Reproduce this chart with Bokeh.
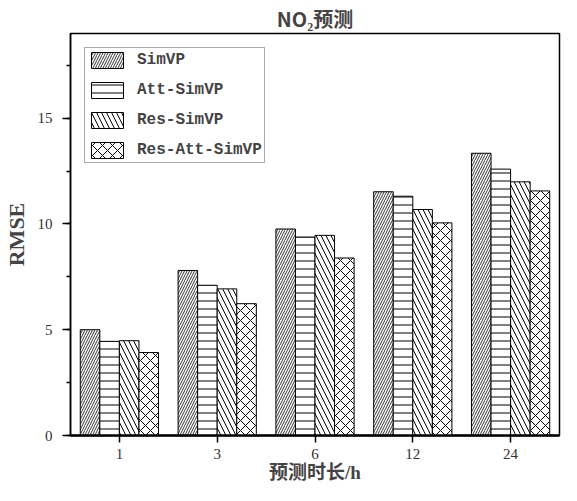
from bokeh.plotting import figure
from bokeh.models import FactorRange, Range1d, SingleIntervalTicker, Legend, LegendItem, ColumnDataSource
from bokeh.transform import dodge
from bokeh.embed import file_html
from bokeh.resources import INLINE

hours = ["1", "3", "6", "12", "24"]
series = ["SimVP", "Att-SimVP", "Res-SimVP", "Res-Att-SimVP"]
simvp = [5.0, 7.8, 9.76, 11.52, 13.34]
att_simvp = [4.45, 7.1, 9.38, 11.31, 12.59]
res_simvp = [4.48, 6.93, 9.46, 10.68, 11.99]
res_att_simvp = [3.92, 6.23, 8.39, 10.05, 11.56]
x_label = "预测时长/h"
y_label = "RMSE"
title = "NO₂预测"

source = ColumnDataSource(dict(hours=hours, s0=simvp, s1=att_simvp, s2=res_simvp, s3=res_att_simvp))

p = figure(x_range=FactorRange(*hours), y_range=Range1d(0, 19),
           width=561, height=485, output_backend="svg", toolbar_location=None,
           min_border_left=64, min_border_right=2, min_border_top=28, min_border_bottom=50)

p.title.text = title
p.title.align = "center"
p.title.text_font = "Noto Sans CJK SC"
p.title.text_font_size = "20px"
p.title.text_font_style = "bold"
p.title.standoff = 2

patterns = ["/", "-", "\\", "x"]
scales = [5, 8, 10, 10]
weights = [0.8, 1, 1, 1]
offsets = [-0.3, -0.1, 0.1, 0.3]
items = []
for i, name in enumerate(series):
    r = p.vbar(x=dodge("hours", offsets[i], range=p.x_range), top="s%d" % i, width=0.2,
               source=source, fill_color="white", line_color="black", line_width=1,
               hatch_pattern=patterns[i], hatch_color="black", hatch_scale=scales[i],
               hatch_weight=weights[i])
    items.append(LegendItem(label=name, renderers=[r]))

legend = Legend(items=items, location="top_left", margin=14, padding=2,
                glyph_width=40, glyph_height=20, spacing=10, label_standoff=10,
                label_height=20, label_text_font="Liberation Mono",
                label_text_font_style="bold", label_text_font_size="16px",
                border_line_color="#555555", border_line_width=1.5,
                background_fill_alpha=1)
p.add_layout(legend)

p.xgrid.visible = False
p.ygrid.visible = False
p.outline_line_color = "black"
p.outline_line_width = 1.5

p.yaxis.ticker = SingleIntervalTicker(interval=5, num_minor_ticks=2)
for ax in (p.xaxis, p.yaxis):
    ax.major_label_text_font = "Liberation Serif"
    ax.major_label_text_font_size = "15px"
    ax.major_label_text_color = "#333333"
    ax.major_label_text_line_height = 1.0
    ax.axis_label_text_line_height = 1.0
    ax.major_tick_in = 0
    ax.minor_tick_in = 0
    ax.axis_line_color = "black"
    ax.major_tick_line_color = "black"
    ax.minor_tick_line_color = "black"
    ax.major_tick_line_width = 1.5
    ax.minor_tick_line_width = 1.5

p.yaxis.major_tick_out = 8
p.yaxis.minor_tick_out = 4
p.yaxis.axis_line_width = 1.5
p.yaxis.major_label_standoff = 10
p.yaxis.axis_label = y_label
p.yaxis.axis_label_text_font = "Liberation Serif"
p.yaxis.axis_label_text_font_style = "bold"
p.yaxis.axis_label_text_font_size = "22px"
p.yaxis.axis_label_standoff = 6

p.xaxis.major_tick_out = 7
p.xaxis.axis_line_width = 2.5
p.xaxis.major_label_standoff = 6
p.xaxis.axis_label = x_label
p.xaxis.axis_label_text_font = "Liberation Serif, Noto Sans CJK SC"
p.xaxis.axis_label_text_font_style = "bold"
p.xaxis.axis_label_text_font_size = "19px"
p.xaxis.axis_label_standoff = 0

open("out.html", "w").write(file_html(p, INLINE))
